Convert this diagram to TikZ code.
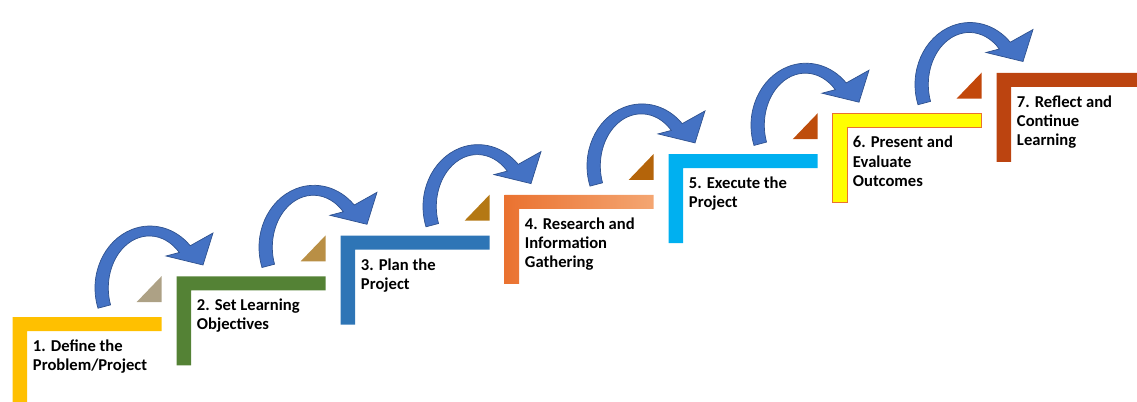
\documentclass[tikz,border=0pt]{standalone}
\usepackage{fontspec}
\setmainfont{Carlito}

\definecolor{stepone}{HTML}{FFC000}
\definecolor{steptwo}{HTML}{548235}
\definecolor{stepthree}{HTML}{2E75B6}
\definecolor{stepfour}{HTML}{EA7230}
\definecolor{stepfourlight}{HTML}{F4A672}
\definecolor{stepfive}{HTML}{00B0F0}
\definecolor{stepsix}{HTML}{FFFF00}
\definecolor{stepseven}{HTML}{BC4410}
\definecolor{notchone}{HTML}{ADA185}
\definecolor{notchtwo}{HTML}{B98F45}
\definecolor{notchthree}{HTML}{B47814}
\definecolor{notchfour}{HTML}{B4640A}
\definecolor{notchfive}{HTML}{BE4D0C}
\definecolor{notchsix}{HTML}{C2470A}
\definecolor{hopfill}{HTML}{4472C4}
\definecolor{hopline}{HTML}{2F528F}

\begin{document}
\begin{tikzpicture}[x=0.025cm, y=-0.025cm,
    every node/.style={font=\bfseries\fontsize{11.8}{13.6}\selectfont},
    caption/.style={anchor=north west, align=left, inner sep=0pt},
    stair/.pic={\path[pic actions] (0,0) -- (149,0) -- (149,14) -- (14.5,14) -- (14.5,89) -- (0,89) -- cycle;},
    notch/.pic={\path[pic actions] (124,-15) -- (149,-15) -- (149,-41) -- cycle;},
    hop/.pic={\path[fill=hopfill, draw=hopline, line width=0.5pt]
      (85.3,-8.8) arc[start angle=161, end angle=317, x radius=55, y radius=62]
      -- (200.3,-84) -- (190.3,-52) -- (153.3,-61) -- (166.6,-64.5)
      arc[start angle=317, end angle=161, x radius=41, y radius=52] -- cycle;},
  ]

    \useasboundingbox (0,0) rectangle (1137,401);
    \clip (0,0) rectangle (1137,401);

    \pic[fill=stepone] at (12.7,317) {stair};
    \pic[fill=notchone] at (12.7,317) {notch};
    \pic at (12.7,317) {hop};
    \node[caption] (define) at (32.7,339.5) {1. Define the\\Problem/Project};

    \pic[fill=steptwo] at (176.7,276.3) {stair};
    \pic[fill=notchtwo] at (176.7,276.3) {notch};
    \pic at (176.7,276.3) {hop};
    \node[caption] (objectives) at (196.7,298.8) {2. Set Learning\\Objectives};

    \pic[fill=stepthree] at (340.7,235.6) {stair};
    \pic[fill=notchthree] at (340.7,235.6) {notch};
    \pic at (340.7,235.6) {hop};
    \node[caption] (plan) at (360.7,258.1) {3. Plan the\\Project};

    \pic[left color=stepfour, right color=stepfourlight] at (504.7,194.9) {stair};
    \pic[fill=notchfour] at (504.7,194.9) {notch};
    \pic at (504.7,194.9) {hop};
    \node[caption] (research) at (524.7,217.4) {4. Research and\\Information\\Gathering};

    \pic[fill=stepfive] at (668.7,154.2) {stair};
    \pic[fill=notchfive] at (668.7,154.2) {notch};
    \pic at (668.7,154.2) {hop};
    \node[caption] (execute) at (688.7,176.7) {5. Execute the\\Project};

    \pic[fill=stepsix, draw=stepfour, line width=0.6pt] at (832.7,113.5) {stair};
    \pic[fill=notchsix] at (832.7,113.5) {notch};
    \pic at (832.7,113.5) {hop};
    \node[caption] (present) at (852.7,136) {6. Present and\\Evaluate\\Outcomes};

    \pic[fill=stepseven] at (996.7,72.8) {stair};
    \node[caption] (reflect) at (1016.7,95.3) {7. Reflect and\\Continue\\Learning};

\end{tikzpicture}
\end{document}
